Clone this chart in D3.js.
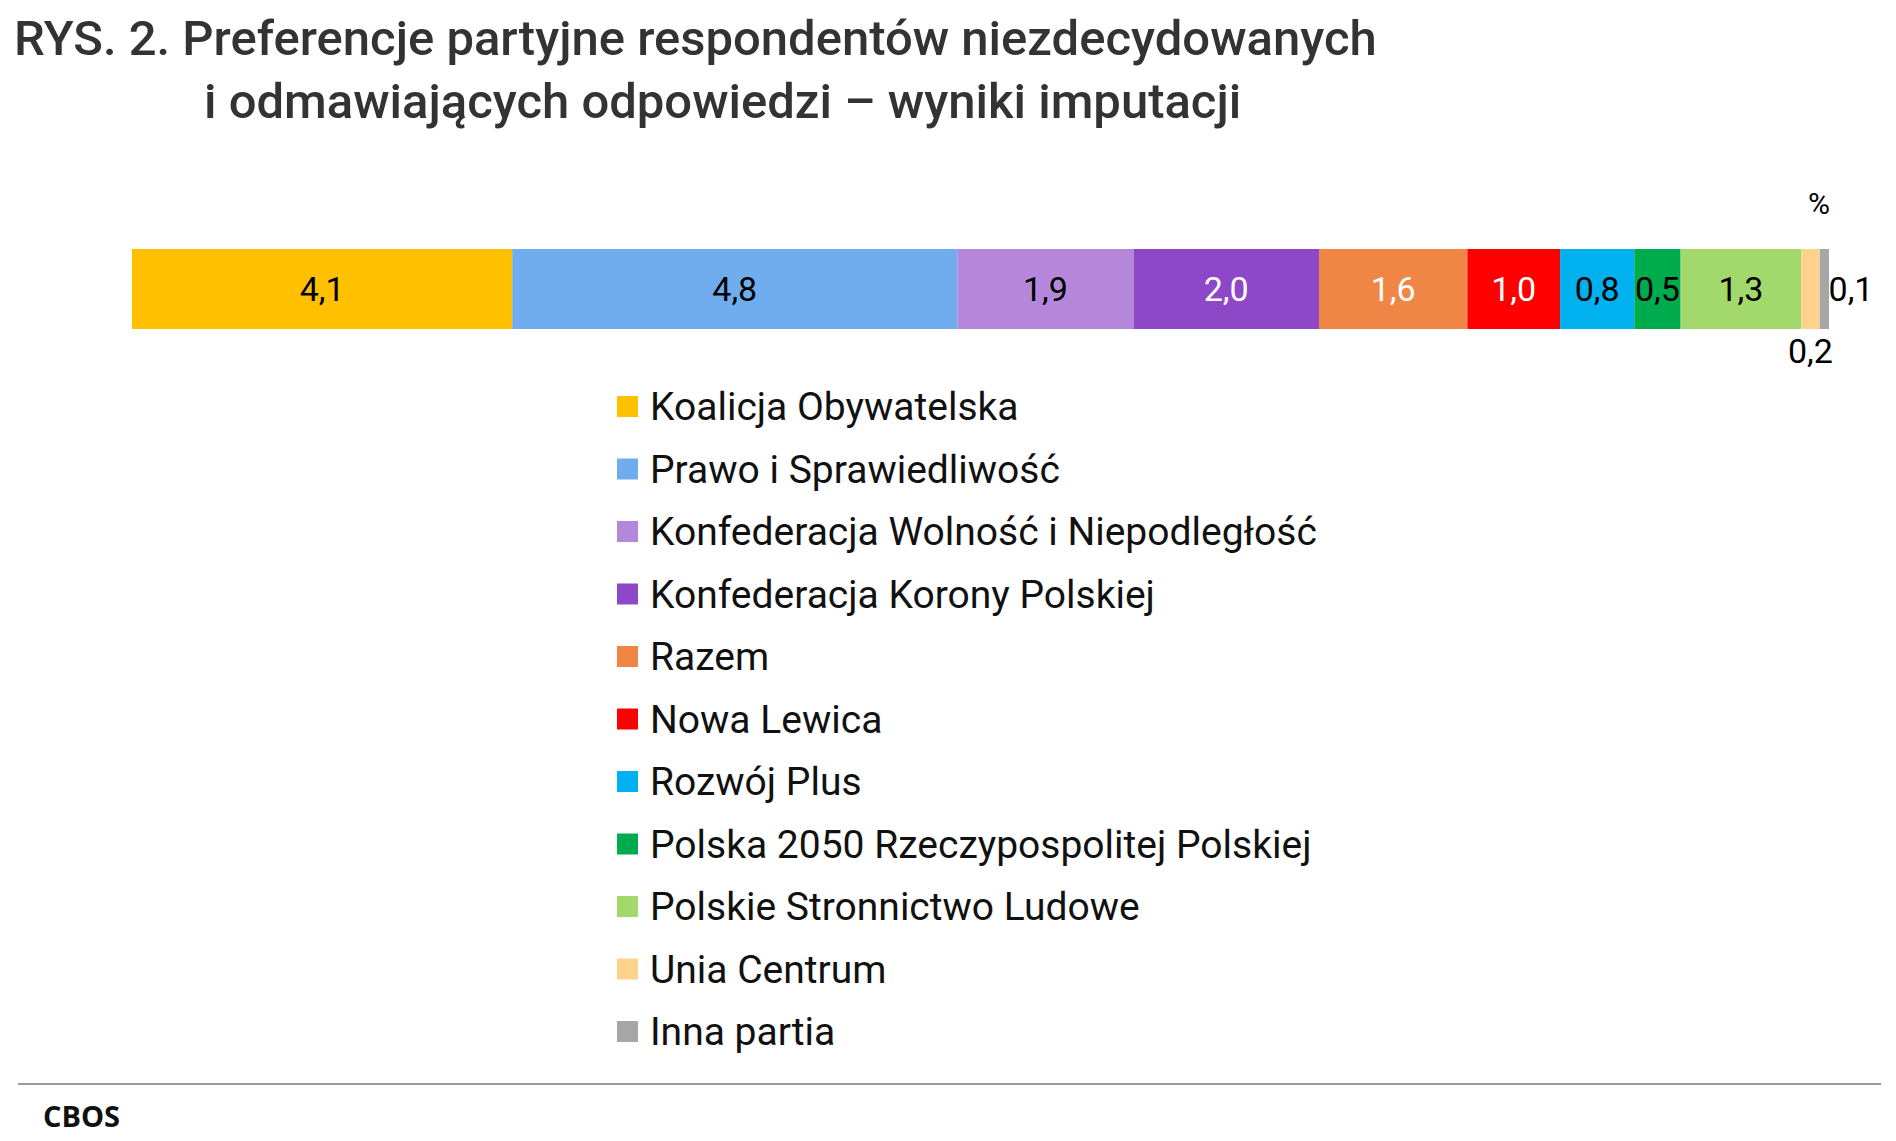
<!DOCTYPE html><html><head><meta charset="utf-8"><script src="https://cdn.jsdelivr.net/npm/d3@7"></script>
<style>body{margin:0;background:#fff}</style></head><body><svg id="c" width="1896" height="1141"></svg><script>
const parties=["Koalicja Obywatelska","Prawo i Sprawiedliwość","Konfederacja Wolność i Niepodległość","Konfederacja Korony Polskiej","Razem","Nowa Lewica","Rozwój Plus","Polska 2050 Rzeczypospolitej Polskiej","Polskie Stronnictwo Ludowe","Unia Centrum","Inna partia"];
const values=[4.1,4.8,1.9,2.0,1.6,1.0,0.8,0.5,1.3,0.2,0.1];
const colors=["#FFC000","#70ADEE","#B487DA","#8E47C6","#F08645","#FF0000","#00B0EF","#00AB4E","#A2D86C","#FFD38C","#A6A6A6"];
const labelColors=["#000","#000","#000","#fff","#fff","#fff","#000","#000","#000","#000","#000"];
const svg=d3.select("#c"),F="Roboto, sans-serif";
svg.append("text").attr("x",14).attr("y",55).attr("font-family",F).attr("font-weight",500).attr("font-size",49).attr("fill","#333").text("RYS. 2. Preferencje partyjne respondentów niezdecydowanych");
svg.append("text").attr("x",204).attr("y",118).attr("font-family",F).attr("font-weight",500).attr("font-size",49).attr("fill","#333").text("i odmawiających odpowiedzi – wyniki imputacji");
const total=d3.sum(values);
const x=d3.scaleLinear().domain([0,total]).range([132,1829]);
const cum=d3.cumsum(values).map((c,i)=>c-values[i]);
const y0=249,h=80;
svg.selectAll("rect.b").data(values).join("rect").attr("x",(d,i)=>x(cum[i])).attr("y",y0).attr("width",d=>x(d)-x(0)).attr("height",h).attr("fill",(d,i)=>colors[i]);
const fmt=v=>v.toFixed(1).replace(".",",");
svg.selectAll("text.v").data(values).join("text").attr("font-family",F).attr("font-size",34).attr("text-anchor","middle")
 .attr("x",(d,i)=>i==10?x(cum[i]+d)+22:x(cum[i]+d/2)).attr("y",(d,i)=>i==9?363:301)
 .attr("fill",(d,i)=>labelColors[i]).text(d=>fmt(d));
svg.append("text").attr("x",1819).attr("y",214).attr("font-family",F).attr("font-size",30).attr("text-anchor","middle").text("%");
const lg=svg.selectAll("g.l").data(parties).join("g").attr("transform",(d,i)=>`translate(617,${407+i*62.5})`);
lg.append("rect").attr("x",0).attr("y",-11).attr("width",21).attr("height",21).attr("fill",(d,i)=>colors[i]);
lg.append("text").attr("x",33).attr("y",13).attr("font-family",F).attr("font-size",39).attr("fill","#111").text(d=>d);
svg.append("line").attr("x1",18).attr("x2",1881).attr("y1",1084).attr("y2",1084).attr("stroke","#999").attr("stroke-width",2);
svg.append("text").attr("x",43).attr("y",1127).attr("font-family","'Open Sans', sans-serif").attr("font-weight",700).attr("font-size",29).attr("fill","#111").text("CBOS");
</script></body></html>
